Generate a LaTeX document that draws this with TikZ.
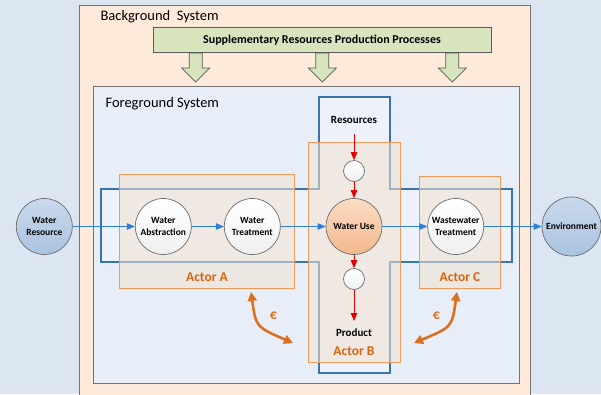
\documentclass[tikz,border=0pt]{standalone}
\usepackage{fontspec}
\setmainfont{Carlito}
\usetikzlibrary{arrows.meta}
\definecolor{bgout}{HTML}{DCE6F2}
\definecolor{bgsys}{HTML}{FDEADA}
\definecolor{fgsys}{HTML}{E8EEF7}
\definecolor{suppgreen}{HTML}{D7E4BD}
\definecolor{crossblue}{HTML}{3A74AE}
\definecolor{arrblue}{HTML}{2F80D0}
\definecolor{actorline}{HTML}{EE9A5A}
\definecolor{actorfill}{HTML}{F2E2D2}
\definecolor{actortext}{HTML}{D8650E}
\definecolor{eurocol}{HTML}{DD7020}
\definecolor{resblueA}{HTML}{CAD9EC}
\definecolor{resblueB}{HTML}{A9C3DF}
\definecolor{useA}{HTML}{FBDCC4}
\definecolor{useB}{HTML}{F2B88E}
\begin{document}
\begin{tikzpicture}[x=1pt,y=-1pt,
  frame/.style={draw=gray!90!black,line width=0.9pt},
  bignode/.style={circle,draw=gray!85!black,line width=0.7pt,minimum size=56pt,inner sep=0pt,
    align=center,font=\fontsize{9.5}{11.5}\selectfont\bfseries,top color=white,bottom color=gray!12},
  bluenode/.style={bignode,top color=resblueA,bottom color=resblueB},
  usenode/.style={bignode,top color=useA,bottom color=useB},
  smallnode/.style={circle,draw=gray!85!black,line width=0.7pt,minimum size=21pt,inner sep=0pt,
    top color=white,bottom color=gray!12},
  flow/.style={draw=arrblue,line width=0.8pt,-{Triangle[length=8pt,width=6.5pt]}},
  redflow/.style={draw=red!90!black,line width=0.8pt,-{Triangle[length=8pt,width=6.5pt]}},
  actorbox/.style={draw=actorline,line width=0.9pt,fill=actorfill,fill opacity=0.55},
  actorlabel/.style={text=actortext,font=\fontsize{13.5}{15}\selectfont\bfseries},
  plain/.style={font=\fontsize{11}{13}\selectfont\bfseries},
  euro/.style={draw=eurocol,line width=2.6pt,{Triangle[length=9pt,width=9pt]}-{Triangle[length=9pt,width=9pt]}},
  eurolabel/.style={text=eurocol,font=\fontsize{14}{16}\selectfont\bfseries},
  title/.style={anchor=west,font=\fontsize{14.5}{16}\selectfont},
  downarrow/.style={draw=gray!70!black,line width=0.7pt,fill=suppgreen}]
\fill[bgout] (0,0) rectangle (601,394);
\useasboundingbox (0,0) rectangle (601,394);
% background system
\draw[frame,fill=bgsys] (79,5) rectangle (530,398);
\node[title] (bgtitle) at (97,16.5) {Background\ \ System};
% supplementary processes
\node[draw=gray!70!black,line width=0.8pt,fill=suppgreen,minimum width=338pt,minimum height=25pt,
  inner sep=0pt,font=\fontsize{12}{14}\selectfont\bfseries] (supp) at (322,40.2)
  {Supplementary Resources Production Processes};
\foreach \cx in {195.7,322.3,452.3}{
  \draw[downarrow] (\cx-6.5,53) -- (\cx+6.5,53) -- (\cx+6.5,68) -- (\cx+14,68) -- (\cx,82)
    -- (\cx-14,68) -- (\cx-6.5,68) -- cycle;
}
% foreground system
\draw[frame,fill=fgsys] (93.7,86) rectangle (519.3,383.3);
\node[title] (fgtitle) at (102,103.5) {Foreground System};
% blue cross
\draw[draw=crossblue,line width=1.6pt,fill=fgsys!80!white]
  (101,189) -- (319,189) -- (319,97) -- (390,97) -- (390,189) -- (512,189) -- (512,262)
  -- (390,262) -- (390,373) -- (319,373) -- (319,262) -- (101,262) -- cycle;
% actor boxes
\draw[actorbox] (119,174) rectangle (294.7,288.3);
\draw[actorbox] (308.3,142) rectangle (400.3,362);
\draw[actorbox] (419,176.7) rectangle (500,288.3);
\node[actorlabel] (actA) at (207,277.5) {Actor A};
\node[actorlabel] (actB) at (354,351) {Actor B};
\node[actorlabel] (actC) at (460,277.5) {Actor C};
% nodes
\node[bluenode] (wr) at (44.3,226.5) {Water\\Resource};
\node[bignode] (wa) at (163.3,226.5) {Water\\Abstraction};
\node[bignode] (wt) at (252.3,226.5) {Water\\Treatment};
\node[usenode] (wu) at (354,226.5) {Water Use};
\node[bignode] (ww) at (455.7,226.5) {Wastewater\\Treatment};
\node[bluenode,minimum size=59pt] (env) at (571.5,226.5) {Environment};
\node[smallnode] (s1) at (354,171) {};
\node[smallnode] (s2) at (354,279) {};
\node[plain] (res) at (354,120) {Resources};
\node[plain] (prod) at (354,332.5) {Product};
\coordinate (resout) at (354,134);
\coordinate (prodin) at (354,321);
% flows
\draw[flow] (wr) -- (wa);
\draw[flow] (wa) -- (wt);
\draw[flow] (wt) -- (wu);
\draw[flow] (wu) -- (ww);
\draw[flow] (ww) -- (env);
\draw[redflow] (resout) -- (s1);
\draw[redflow] (s1) -- (wu);
\draw[redflow] (wu) -- (s2);
\draw[redflow] (s2) -- (prodin);
% money flows
\coordinate (eAa) at (251,292);
\coordinate (eAb) at (293,343);
\coordinate (eCa) at (414,343);
\coordinate (eCb) at (457,292);
\draw[euro] (eAa) .. controls (256,327) .. (eAb);
\draw[euro] (eCa) .. controls (452,327) .. (eCb);
\node[eurolabel] (euA) at (273.5,316) {€};
\node[eurolabel] (euC) at (436.5,316) {€};
\end{tikzpicture}
\end{document}
